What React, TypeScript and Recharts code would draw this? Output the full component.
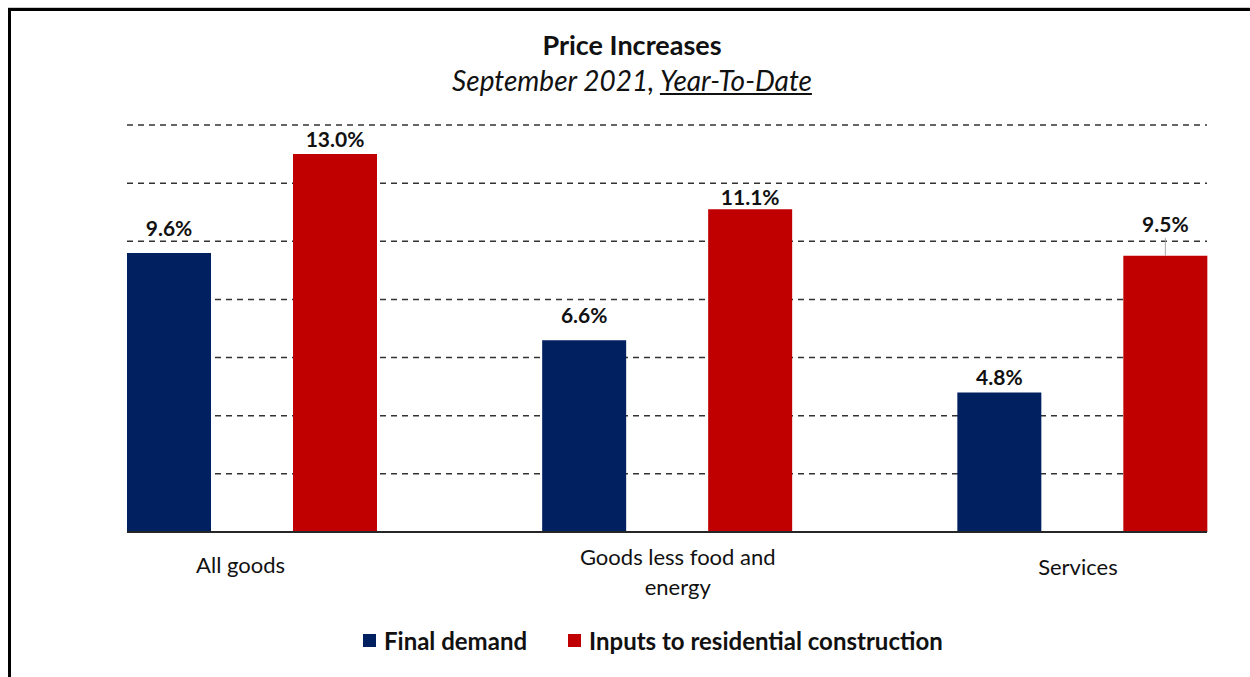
import React from "react";
import {
  BarChart,
  Bar,
  XAxis,
  YAxis,
  CartesianGrid,
  Legend,
  LabelList,
} from "recharts";

const categories = ["All goods", "Goods less food and energy", "Services"];
const finalDemand = [9.6, 6.6, 4.8];
const residentialInputs = [13.0, 11.1, 9.5];
const yTicks = [0, 2, 4, 6, 8, 10, 12, 14];

const BLUE = "#002060";
const RED = "#C00000";
const FONT = "Lato, 'Open Sans', sans-serif";

// Excel labels were dragged by hand, so each sits a bit differently above its bar
const labelLift: Record<string, number[]> = {
  finalDemand: [25, 25, 15],
  residentialInputs: [15, 12, 32],
};
// category labels are nudged sideways a little in the original too
const tickShift = [-11, 11, -4];

const chartData = categories.map((name, i) => ({
  name,
  finalDemand: finalDemand[i],
  residentialInputs: residentialInputs[i],
}));

// split a category name into lines of at most ~20 chars
const wrap = (text: string, max = 20) => {
  const lines: string[] = [];
  let cur = "";
  text.split(" ").forEach((w) => {
    if (cur && (cur + " " + w).length > max) {
      lines.push(cur);
      cur = w;
    } else {
      cur = cur ? cur + " " + w : w;
    }
  });
  if (cur) lines.push(cur);
  return lines;
};

const CategoryTick = (props: any) => {
  const { x, y, payload, index } = props;
  const lines = wrap(payload.value);
  const first = lines.length > 1 ? 25 : index === 2 ? 35 : 33;
  return (
    <g>
      {lines.map((line, i) => (
        <text
          key={i}
          x={x + (tickShift[index] || 0)}
          y={y + first + i * 30}
          textAnchor="middle"
          fontFamily={FONT}
          fontSize={22}
          fill="#111"
        >
          {line}
        </text>
      ))}
    </g>
  );
};

const makeLabel = (key: string) => (props: any) => {
  const { x, y, width, value, index } = props;
  const cx = x + width / 2;
  const lift = labelLift[key][index];
  return (
    <g>
      {lift > 28 && (
        <line
          x1={cx}
          y1={y}
          x2={cx}
          y2={y - lift + 14}
          stroke="#a6a6a6"
          strokeWidth={1}
        />
      )}
      <text
        x={cx}
        y={y - lift + 8}
        textAnchor="middle"
        fontFamily={FONT}
        fontWeight={700}
        fontSize={21}
        fill="#111"
      >
        {`${Number(value).toFixed(1)}%`}
      </text>
    </g>
  );
};

const LegendContent = (props: any) => {
  const items = props.payload || [];
  return (
    <div
      style={{
        display: "flex",
        alignItems: "center",
        fontFamily: FONT,
        fontWeight: 700,
        fontSize: 24,
        color: "#111",
      }}
    >
      {items.map((item: any, i: number) => (
        <div
          key={i}
          style={{
            display: "flex",
            alignItems: "center",
            marginRight: i === 0 ? 41 : 0,
          }}
        >
          <span
            style={{
              width: 13,
              height: 13,
              background: item.color,
              display: "inline-block",
              marginRight: 8,
            }}
          />
          <span>{item.value}</span>
        </div>
      ))}
    </div>
  );
};

export default function App() {
  return (
    <div
      style={{
        position: "absolute",
        left: 0,
        top: 0,
        width: 1250,
        height: 677,
        overflow: "hidden",
        background: "#fff",
      }}
    >
      {/* chart frame, only top and left edges show */}
      <div
        style={{
          position: "absolute",
          left: 8,
          top: 8,
          width: 1300,
          height: 720,
          border: "3px solid #000",
          boxShadow: "0 -1px 0 #ccc",
        }}
      />
      <div
        style={{
          position: "absolute",
          left: 0,
          width: 1264,
          top: 29,
          textAlign: "center",
          fontFamily: FONT,
          color: "#111",
        }}
      >
        <div style={{ fontWeight: 700, fontSize: 27, lineHeight: "32px" }}>
          Price Increases
        </div>
        <div style={{ fontStyle: "italic", fontSize: 28, lineHeight: "38px" }}>
          September 2021, <span style={{ textDecoration: "underline" }}>Year-To-Date</span>
        </div>
      </div>
      <div style={{ position: "absolute", left: 0, top: 0 }}>
        <BarChart
          width={1250}
          height={677}
          data={chartData}
          margin={{ top: 125, right: 43, bottom: 85, left: 127 }}
          barSize={84}
          barGap={82}
        >
          <CartesianGrid
            vertical={false}
            stroke="#333"
            strokeWidth={1.5}
            strokeDasharray="6 5"
          />
          <XAxis
            dataKey="name"
            height={60}
            padding={{ left: -83, right: -82.5 }}
            axisLine={{ stroke: "#262626", strokeWidth: 2 }}
            tickLine={false}
            interval={0}
            tick={<CategoryTick />}
          />
          <YAxis hide domain={[0, 14]} ticks={yTicks} />
          <Legend
            layout="horizontal"
            verticalAlign="middle"
            align="center"
            wrapperStyle={{ top: 626, left: 363, width: "auto" }}
            content={<LegendContent />}
          />
          <Bar
            dataKey="finalDemand"
            name="Final demand"
            fill={BLUE}
            isAnimationActive={false}
          >
            <LabelList dataKey="finalDemand" content={makeLabel("finalDemand")} />
          </Bar>
          <Bar
            dataKey="residentialInputs"
            name="Inputs to residential construction"
            fill={RED}
            isAnimationActive={false}
          >
            <LabelList
              dataKey="residentialInputs"
              content={makeLabel("residentialInputs")}
            />
          </Bar>
        </BarChart>
      </div>
    </div>
  );
}
